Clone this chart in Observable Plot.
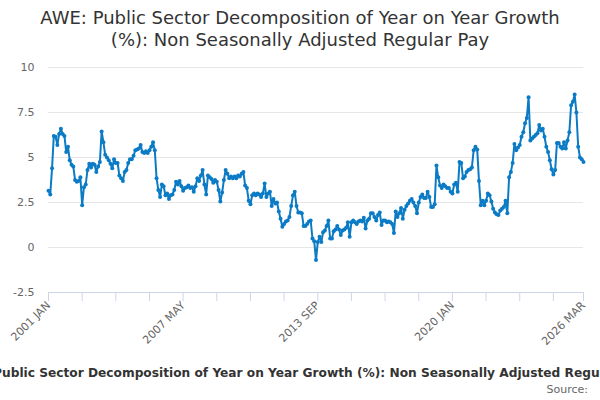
<!DOCTYPE html>
<html>
<head>
<meta charset="utf-8">
<script src="https://cdn.jsdelivr.net/npm/d3@7"></script>
<script src="https://cdn.jsdelivr.net/npm/@observablehq/plot@0.6"></script>
<style>
  html, body { margin: 0; padding: 0; background: #fff; width: 600px; height: 400px; overflow: hidden; }
  body { font-family: "DejaVu Sans", sans-serif; }
  #title { width: 600px; height: 55px; box-sizing: border-box; padding-top: 7px; text-align: center;
           font-size: 18px; line-height: 22px; color: #333; }
  #chart { height: 300px; }
  #chart svg { overflow: visible; display: block; }
  #caption { width: 600px; display: flex; justify-content: center; white-space: nowrap; margin-top: 11px;
             font-size: 12.2px; font-weight: bold; color: #333; line-height: 14px; }
  #source { width: 600px; text-align: right; box-sizing: border-box; padding-right: 12px; margin-top: 3px;
            font-size: 11px; color: #666; line-height: 14px; }
</style>
</head>
<body>
<div id="title">AWE: Public Sector Decomposition of Year on Year Growth<br>(%): Non Seasonally Adjusted Regular Pay</div>
<div id="chart"></div>
<div id="caption"><span>AWE: Public Sector Decomposition of Year on Year Growth (%): Non Seasonally Adjusted Regular Pay</span></div>
<div id="source">Source:</div>
<script>
// Monthly series, 2001 JAN .. 2026 MAR (303 months)
const startYear = 2001;
const startMonth = 0; // JAN
const monthNames = ["JAN","FEB","MAR","APR","MAY","JUN","JUL","AUG","SEP","OCT","NOV","DEC"];

const values = [
  3.15, 2.95, 4.4, 6.2, 6.15, 5.7, 6.3, 6.6, 6.3, 6.2,
  5.3, 5.6, 4.85, 4.6, 4.5, 3.75, 3.65, 3.7, 3.9, 2.35,
  3.35, 3.5, 4.3, 4.65, 4.45, 4.65, 4.6, 4.2, 4.5, 4.75,
  6.45, 5.85, 5.15, 5.0, 4.85, 4.65, 4.4, 4.9, 4.7, 4.7,
  4.0, 3.85, 3.7, 4.2, 4.3, 4.7, 4.9, 4.9, 5.1, 5.4,
  5.45, 5.5, 5.7, 5.3, 5.25, 5.35, 5.25, 5.4, 5.6, 5.85,
  5.4, 3.85, 3.2, 2.8, 3.5, 3.4, 2.9, 3.0, 2.7, 2.9,
  2.95, 3.2, 3.65, 3.5, 3.7, 3.4, 3.15, 3.3, 3.35, 3.45,
  3.3, 3.35, 3.1, 3.4, 3.85, 3.7, 4.0, 4.3, 3.5, 2.95,
  4.0, 3.9, 3.8, 3.6, 3.75, 3.65, 3.2, 2.55, 3.05, 3.75,
  4.3, 4.1, 3.85, 3.95, 3.85, 3.95, 3.85, 4.0, 3.95, 4.1,
  4.2, 3.45, 3.3, 2.6, 2.4, 2.9, 3.0, 2.9, 3.0, 2.95,
  2.8, 3.0, 3.55, 2.8, 3.0, 3.1, 2.3, 2.7, 2.45, 2.5,
  2.0, 1.6, 1.15, 1.3, 1.45, 1.5, 1.7, 2.3, 2.9, 3.1,
  2.3, 1.95, 1.95, 1.9, 1.2, 1.2, 1.3, 1.45, 1.5, 0.5,
  0.35, -0.7, 0.3, 0.6, 0.3, 0.85, 0.95, 1.2, 1.5, 0.5,
  0.5, 0.9, 1.0, 1.2, 1.0, 0.7, 0.95, 1.0, 1.1, 1.4,
  0.6, 1.4, 1.5, 1.4, 1.3, 1.45, 1.5, 1.45, 1.65, 1.05,
  1.5, 1.6, 1.9, 1.9, 1.7, 1.5, 1.8, 1.95, 1.25, 1.5,
  1.5, 1.4, 1.45, 1.4, 1.3, 0.8, 2.0, 1.7, 1.9, 2.2,
  1.6, 2.1, 2.3, 2.45, 2.6, 2.7, 2.5, 2.3, 1.9, 2.5,
  2.8, 2.95, 2.75, 2.75, 3.1, 2.8, 2.25, 2.25, 2.4, 4.55,
  3.9, 3.45, 3.3, 3.5, 3.4, 3.3, 3.3, 3.1, 3.0, 3.5,
  3.6, 3.1, 4.75, 4.7, 3.85, 3.95, 4.2, 4.3, 4.35, 4.45,
  5.4, 5.6, 5.45, 3.7, 2.35, 2.6, 2.35, 2.6, 3.0, 2.9,
  2.55, 2.15, 1.95, 1.85, 1.8, 2.05, 2.15, 2.25, 2.6, 1.9,
  3.9, 4.2, 4.7, 5.75, 5.4, 5.55, 5.7, 6.15, 6.4, 6.9,
  7.2, 8.35, 5.95, 6.05, 6.15, 6.25, 6.35, 6.8, 6.5, 6.6,
  6.15, 5.6, 5.3, 4.85, 4.35, 4.05, 4.3, 5.8, 5.8, 5.6,
  5.5, 5.85, 5.5, 5.95, 6.4, 7.9, 8.1, 8.5, 7.5, 5.6,
  5.0, 4.9, 4.75
];

const yTicks = [-2.5, 0, 2.5, 5, 7.5, 10];
const yTickLabels = ["-2.5", "0", "2.5", "5", "7.5", "10"];
const xTickStep = 19;
const xTickLabels = ["2001 JAN", "2007 MAY", "2013 SEP", "2020 JAN", "2026 MAR"];

const months = values.map((_, i) => {
  const m = startMonth + i;
  return `${startYear + Math.floor(m / 12)} ${monthNames[m % 12]}`;
});
const data = values.map((v, i) => ({i, month: months[i], v}));
const last = values.length - 1;

const xTicks = d3.range(0, last, xTickStep).concat([last]);
const labelFor = i => {
  const k = xTickLabels.indexOf(months[i]);
  return k >= 0 ? xTickLabels[k] : "";
};

const color = "#0b7bc5";

const chart = Plot.plot({
  width: 600,
  height: 300,
  marginLeft: 48,
  marginRight: 17,
  marginTop: 12,
  marginBottom: 63,
  style: {fontFamily: "DejaVu Sans, sans-serif", fontSize: "11px", background: "transparent"},
  x: {type: "linear", domain: [0, last]},
  y: {domain: [-2.5, 10]},
  marks: [
    Plot.gridY(yTicks, {stroke: "#e6e6e6", strokeOpacity: 1}),
    Plot.axisY(yTicks, {
      tickSize: 0, tickPadding: 14, fill: "#666",
      tickFormat: d => yTickLabels[yTicks.indexOf(d)], label: null
    }),
    Plot.ruleY([-2.5], {stroke: "#ccd6eb", strokeWidth: 1}),
    Plot.axisX(xTicks, {
      tickSize: 9, stroke: "#ccd6eb", strokeOpacity: 1, fill: "#666",
      tickRotate: -45, tickPadding: 2, tickFormat: labelFor, label: null
    }),
    Plot.line(data, {x: "i", y: "v", stroke: color, strokeWidth: 2}),
    Plot.dot(data, {x: "i", y: "v", r: 2, fill: color, stroke: null})
  ]
});
document.getElementById("chart").appendChild(chart);
</script>
</body>
</html>
